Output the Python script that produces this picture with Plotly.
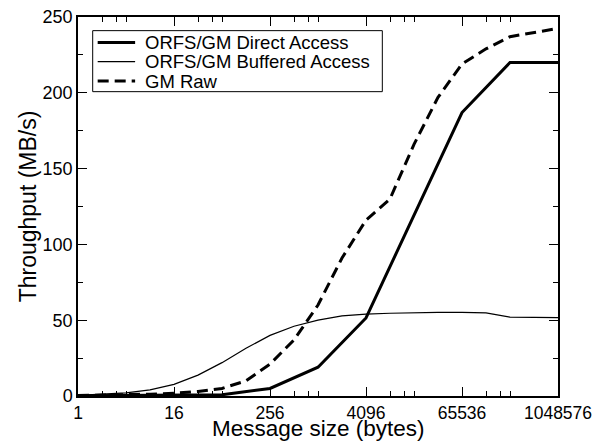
import plotly.graph_objects as go

# Data
sizes_direct = [1, 4, 16, 64, 256, 1024, 4096, 16384, 65536, 262144, 1048576]
direct = [0.2, 0.3, 0.5, 0.8, 5, 19, 51.5, 119, 187, 220, 220]

sizes = [2 ** i for i in range(21)]
buffered = [0.5, 1, 2, 4, 7.7, 13.8, 22, 31.5, 40, 46, 50, 52.8, 54, 54.6, 55,
            55.2, 55.2, 54.8, 52, 51.9, 51.7]
gm_raw = [0.3, 0.5, 0.8, 1.2, 1.8, 3, 5, 10, 21, 37, 60, 91, 116, 130, 166,
          197, 219, 229, 237, 240, 242.5]

series_names = ["ORFS/GM Direct Access", "ORFS/GM Buffered Access", "GM Raw"]

x_tickvals = [1, 16, 256, 4096, 65536, 1048576]
x_ticktext = ["1", "16", "256", "4096", "65536", "1048576"]
x_minor = [m * t for t in x_tickvals[:-1] for m in (2, 3, 4)]

FONT = "Liberation Sans, Arial, Helvetica, sans-serif"
styles = [dict(color="black", width=3),
          dict(color="black", width=1.2),
          dict(color="black", width=3, dash="11px,6px")]

fig = go.Figure()
for xs, ys, nm, st in zip([sizes_direct, sizes, sizes],
                          [direct, buffered, gm_raw], series_names, styles):
    fig.add_trace(go.Scatter(x=xs, y=ys, mode="lines", name=nm, line=st,
                             showlegend=False))

# Hand-built legend box (compact, like the original)
shapes = [dict(type="rect", xref="paper", yref="paper", x0=0.0306, x1=0.634,
               y0=0.803, y1=0.964, line=dict(color="black", width=1),
               fillcolor="white", layer="above")]
annotations = []
row_y = [0.933, 0.882, 0.831]
for ry, nm, st in zip(row_y, series_names, styles):
    shapes.append(dict(type="line", xref="paper", yref="paper", x0=0.041,
                       x1=0.119, y0=ry, y1=ry, layer="above",
                       line=dict(color="black", width=st["width"],
                                 dash=st.get("dash", "solid"))))
    annotations.append(dict(xref="paper", yref="paper", x=0.1375, y=ry,
                            xanchor="left", yanchor="middle", showarrow=False,
                            text=nm, font=dict(size=18.5), borderpad=0))

# x-axis title placed just under the tick labels, as in the original
annotations.append(dict(xref="paper", yref="paper", x=0.5, y=0,
                        xanchor="center", yanchor="middle", yshift=-32,
                        showarrow=False, text="Message size (bytes)",
                        font=dict(size=22.5), borderpad=0))

fig.update_layout(
    width=604, height=442,
    margin=dict(l=78, r=46, t=17, b=46, autoexpand=False),
    paper_bgcolor="white", plot_bgcolor="white",
    font=dict(family=FONT, color="black", size=18),
    showlegend=False,
    shapes=shapes, annotations=annotations,
    xaxis=dict(type="log", range=[0, 6.0206], tickvals=x_tickvals,
               ticktext=x_ticktext, ticks="inside", ticklen=9, tickwidth=1,
               tickcolor="black", showline=True, linecolor="black",
               linewidth=1.5, mirror="ticks", showgrid=False, zeroline=False,
               automargin=False, tickfont=dict(size=17.5),
               minor=dict(tickvals=x_minor, ticks="inside", ticklen=5,
                          tickcolor="black", tickwidth=1, showgrid=False)),
    yaxis=dict(range=[0, 250], tickvals=[0, 50, 100, 150, 200, 250],
               ticks="inside", ticklen=9, tickwidth=1, tickcolor="black",
               showline=True, linecolor="black", linewidth=1.5,
               mirror="ticks", showgrid=False, zeroline=False,
               automargin=False, tickfont=dict(size=18),
               minor=dict(dtick=25, tick0=0, ticks="inside", ticklen=5,
                          tickcolor="black", tickwidth=1, showgrid=False),
               title=dict(text="Throughput (MB/s)", font=dict(size=23),
                          standoff=0)),
)

fig.write_html("out.html")
